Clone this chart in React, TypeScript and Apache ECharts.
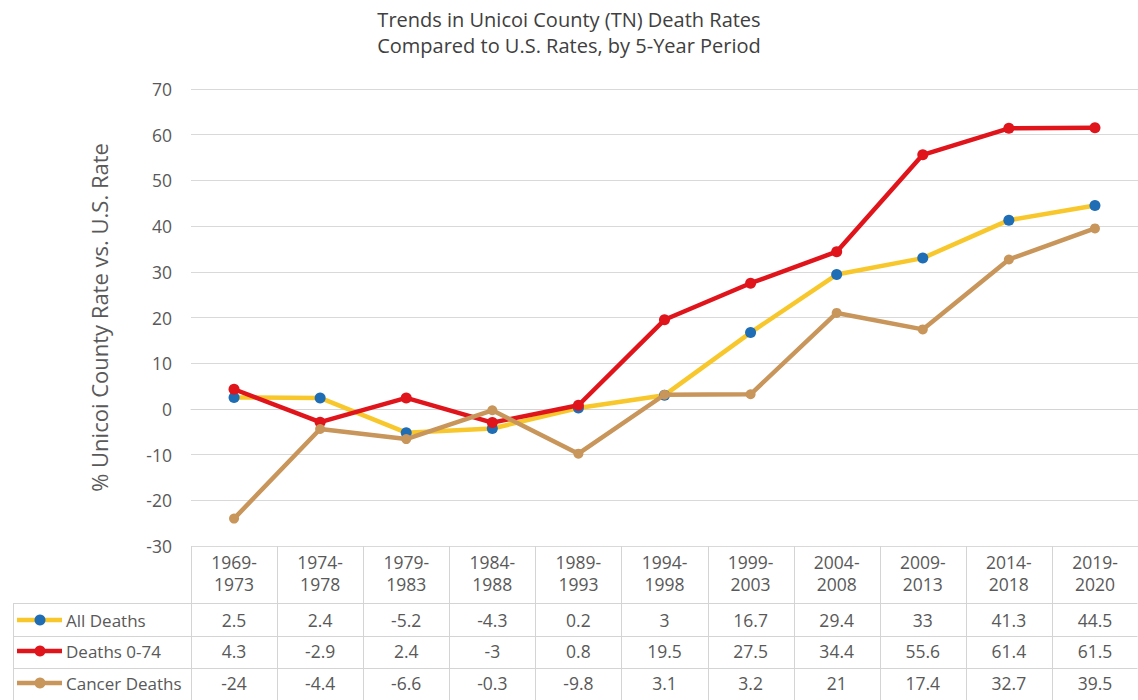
import React, { useEffect, useRef } from "react";
import * as echarts from "echarts";

const categories = [
  "1969-1973", "1974-1978", "1979-1983", "1984-1988", "1989-1993", "1994-1998",
  "1999-2003", "2004-2008", "2009-2013", "2014-2018", "2019-2020",
];
const allDeaths = [2.5, 2.4, -5.2, -4.3, 0.2, 3, 16.7, 29.4, 33, 41.3, 44.5];
const deaths074 = [4.3, -2.9, 2.4, -3, 0.8, 19.5, 27.5, 34.4, 55.6, 61.4, 61.5];
const cancerDeaths = [-24, -4.4, -6.6, -0.3, -9.8, 3.1, 3.2, 21, 17.4, 32.7, 39.5];
const seriesNames = ["All Deaths", "Deaths 0-74", "Cancer Deaths"];

const FONT = "'Open Sans', sans-serif";
const TEXT = "#595959";
const BORDER = "#D4D4D4";
const YELLOW = "#F7C72C";
const BLUE = "#1F6DB5";
const RED = "#E0141B";
const TAN = "#C8955A";

export default function App() {
  const ref = useRef<HTMLDivElement>(null);
  useEffect(() => {
    document.body.style.margin = "0";
    const chart = echarts.init(ref.current!, null, { renderer: "svg" });
    const option: any = {
      animation: false,
      backgroundColor: "#ffffff",
      textStyle: { fontFamily: FONT },
      title: {
        text: "Trends in Unicoi County (TN) Death Rates\nCompared to U.S. Rates, by 5-Year Period",
        left: "center",
        top: 1,
        textStyle: { fontFamily: FONT, fontSize: 20, fontWeight: "normal", color: "#404040", lineHeight: 26 },
      },
      grid: { left: 191, right: 0, top: 89, height: 457 },
      xAxis: {
        type: "category",
        data: categories,
        boundaryGap: true,
        axisLine: { show: true, lineStyle: { color: BORDER, width: 1 } },
        axisTick: { show: false },
        axisLabel: {
          interval: 0,
          margin: 5,
          color: TEXT,
          fontFamily: FONT,
          fontSize: 17.5,
          lineHeight: 22,
          formatter: (v: string) => v.replace("-", "-\n"),
        },
        splitLine: { show: false },
      },
      yAxis: {
        type: "value",
        min: -30,
        max: 70,
        interval: 10,
        name: "% Unicoi County Rate vs. U.S. Rate",
        nameLocation: "middle",
        nameRotate: 90,
        nameGap: 81,
        nameTextStyle: { fontFamily: FONT, fontSize: 22, color: TEXT },
        axisLine: { show: false },
        axisTick: { show: false },
        axisLabel: { margin: 19, color: TEXT, fontFamily: FONT, fontSize: 17.5 },
        splitLine: { lineStyle: { color: "#D9D9D9", width: 1 } },
      },
      series: [
        {
          name: seriesNames[0],
          type: "line",
          data: allDeaths,
          symbol: "circle",
          symbolSize: 11,
          lineStyle: { color: YELLOW, width: 4.5 },
          itemStyle: { color: BLUE },
          z: 2,
        },
        {
          name: seriesNames[1],
          type: "line",
          data: deaths074,
          symbol: "circle",
          symbolSize: 11,
          lineStyle: { color: RED, width: 4.5 },
          itemStyle: { color: RED },
          z: 3,
        },
        {
          name: seriesNames[2],
          type: "line",
          data: cancerDeaths,
          symbol: "circle",
          symbolSize: 10,
          lineStyle: { color: TAN, width: 4.5 },
          itemStyle: { color: TAN },
          z: 4,
        },
      ],
    };
    chart.setOption(option);

    const xs = categories.map((_, i) => chart.convertToPixel({ xAxisIndex: 0 }, i) as number);
    const band = xs.length > 1 ? xs[1] - xs[0] : 86;
    const leftEdge = xs[0] - band / 2;
    const rightEdge = xs[xs.length - 1] + band / 2 - 0.5;
    const axisY = chart.convertToPixel({ yAxisIndex: 0 }, -30) as number;
    const rowLines = [603, 636, 668];
    const rowCenters = [620, 651, 683];
    const rows = [allDeaths, deaths074, cancerDeaths];
    const lineColors = [YELLOW, RED, TAN];
    const dotColors = [BLUE, RED, TAN];
    const legendLeft = 13;

    const graphic: any[] = [];
    const vline = (x: number, y1: number, y2: number) =>
      graphic.push({
        type: "line",
        shape: { x1: x, y1, x2: x, y2 },
        style: { stroke: BORDER, lineWidth: 1 },
        silent: true,
      });
    for (let i = 0; i <= categories.length; i++) {
      const x = i === categories.length ? rightEdge : leftEdge + i * band;
      vline(Math.round(x) + 0.5, axisY, 700);
    }
    vline(legendLeft + 0.5, rowLines[0], 700);
    rowLines.forEach((y) => {
      graphic.push({
        type: "line",
        shape: { x1: legendLeft, y1: y + 0.5, x2: rightEdge, y2: y + 0.5 },
        style: { stroke: BORDER, lineWidth: 1 },
        silent: true,
      });
    });
    rows.forEach((vals, r) => {
      const cy = rowCenters[r];
      graphic.push({
        type: "line",
        shape: { x1: 17, y1: cy, x2: 62, y2: cy },
        style: { stroke: lineColors[r], lineWidth: 4.5 },
        silent: true,
      });
      graphic.push({
        type: "circle",
        shape: { cx: 40, cy, r: 5.5 },
        style: { fill: dotColors[r] },
        silent: true,
      });
      graphic.push({
        type: "text",
        x: 66,
        y: cy,
        style: {
          text: seriesNames[r],
          fill: TEXT,
          font: `17px ${FONT}`,
          textAlign: "left",
          textVerticalAlign: "middle",
        },
        silent: true,
      });
      vals.forEach((v, i) => {
        graphic.push({
          type: "text",
          x: xs[i],
          y: cy,
          style: {
            text: String(v),
            fill: TEXT,
            font: `17.5px ${FONT}`,
            textAlign: "center",
            textVerticalAlign: "middle",
          },
          silent: true,
        });
      });
    });
    chart.setOption({ graphic });

    return () => chart.dispose();
  }, []);
  return <div ref={ref} style={{ width: 1138, height: 700 }} />;
}
